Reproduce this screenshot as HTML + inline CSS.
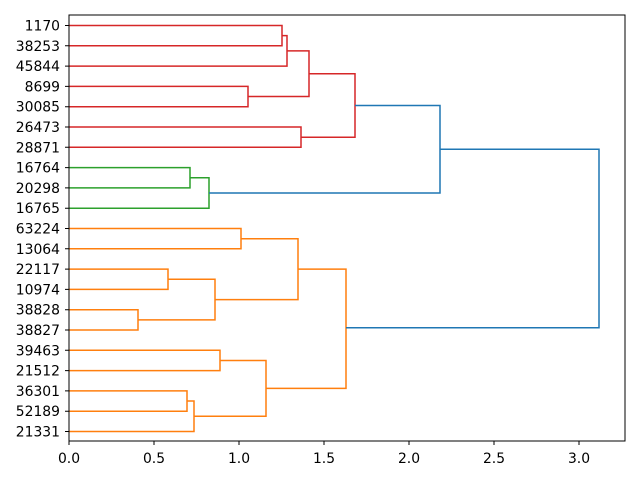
<!DOCTYPE html>
<html><head><meta charset="utf-8"><style>html,body{margin:0;padding:0;background:#fff}</style></head>
<body>
<svg width="640" height="480" xmlns="http://www.w3.org/2000/svg" font-family="'DejaVu Sans','Liberation Sans',sans-serif" font-size="13.9">
<rect width="640" height="480" fill="#fff"/>
<g fill="none" stroke-width="1.5">
<g stroke="#d62728">
<path d="M69 25.5H282V45.8H69"/>
<path d="M282 35.6H287V66.1H69"/>
<path d="M69 86.4H248V106.7H69"/>
<path d="M287 50.9H309V96.5H248"/>
<path d="M69 127H301V147.3H69"/>
<path d="M309 73.7H355V137.2H301"/>
</g>
<g stroke="#2ca02c">
<path d="M69 167.6H190V187.9H69"/>
<path d="M190 177.8H209V208.2H69"/>
</g>
<g stroke="#ff7f0e">
<path d="M69 228.5H241V248.8H69"/>
<path d="M69 269.1H168V289.4H69"/>
<path d="M69 309.7H138V330H69"/>
<path d="M168 279.3H215V319.9H138"/>
<path d="M241 238.7H298V299.6H215"/>
<path d="M69 350.3H220V370.6H69"/>
<path d="M69 390.9H187V411.2H69"/>
<path d="M187 401H194V431.5H69"/>
<path d="M220 360.5H266V416.3H194"/>
<path d="M298 269.1H346V388.4H266"/>
</g>
<g stroke="#1f77b4">
<path d="M355 105.5H440V193H209"/>
<path d="M440 149.2H599V327.7H346"/>
</g>
</g>
<rect x="69" y="15" width="556" height="426" fill="none" stroke="#000" stroke-width="1"/>
<g stroke="#000" stroke-width="1">
<path d="M69 441v4M154 441v4M239 441v4M324 441v4M409 441v4M494 441v4M579 441v4"/>
<path d="M69 25.5h-4M69 45.8h-4M69 66.1h-4M69 86.4h-4M69 106.7h-4M69 127h-4M69 147.3h-4M69 167.6h-4M69 187.9h-4M69 208.2h-4M69 228.5h-4M69 248.8h-4M69 269.1h-4M69 289.4h-4M69 309.7h-4M69 330h-4M69 350.3h-4M69 370.6h-4M69 390.9h-4M69 411.2h-4M69 431.5h-4"/>
</g>
<g text-anchor="middle" fill="#000">
<text x="69" y="463">0.0</text><text x="154" y="463">0.5</text><text x="239" y="463">1.0</text><text x="324" y="463">1.5</text><text x="409" y="463">2.0</text><text x="494" y="463">2.5</text><text x="579" y="463">3.0</text>
</g>
<g text-anchor="end" fill="#000">
<text x="60" y="30.5">1170</text><text x="60" y="50.8">38253</text><text x="60" y="71.1">45844</text><text x="60" y="91.4">8699</text><text x="60" y="111.7">30085</text><text x="60" y="132">26473</text><text x="60" y="152.3">28871</text><text x="60" y="172.6">16764</text><text x="60" y="192.9">20298</text><text x="60" y="213.2">16765</text><text x="60" y="233.5">63224</text><text x="60" y="253.8">13064</text><text x="60" y="274.1">22117</text><text x="60" y="294.4">10974</text><text x="60" y="314.7">38828</text><text x="60" y="335">38827</text><text x="60" y="355.3">39463</text><text x="60" y="375.6">21512</text><text x="60" y="395.9">36301</text><text x="60" y="416.2">52189</text><text x="60" y="436.5">21331</text>
</g>
</svg>
</body></html>
